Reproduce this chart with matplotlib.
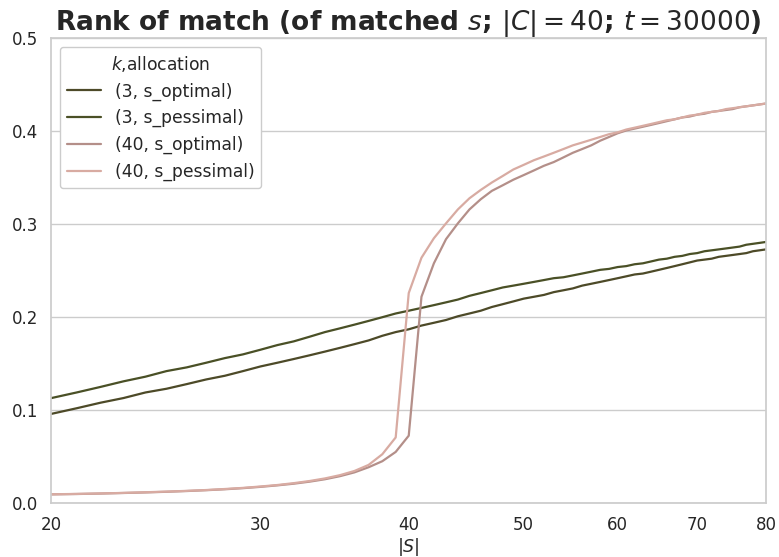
import matplotlib

matplotlib.use("Agg")
import matplotlib.pyplot as plt
import seaborn as sns
from matplotlib.ticker import FixedLocator, FixedFormatter, NullLocator

# |S| values (one point per integer)
S_SIZES = list(range(20, 81))

# k = 3 curves
K3_OPTIMAL = [
    0.096, 0.102, 0.108, 0.113, 0.119, 0.123, 0.128, 0.133, 0.137, 0.142,
    0.147, 0.151, 0.155, 0.159, 0.163, 0.167, 0.171, 0.175, 0.180, 0.184,
    0.187, 0.191, 0.194, 0.197, 0.201, 0.204, 0.207, 0.211, 0.214, 0.217,
    0.220, 0.222, 0.224, 0.227, 0.229, 0.231, 0.234, 0.236, 0.238, 0.240,
    0.242, 0.244, 0.246, 0.247, 0.249, 0.251, 0.253, 0.255, 0.257, 0.259,
    0.261, 0.262, 0.263, 0.265, 0.266, 0.267, 0.268, 0.269, 0.271, 0.272,
    0.273,
]
K3_PESSIMAL = [
    0.113, 0.119, 0.125, 0.131, 0.136, 0.142, 0.146, 0.151, 0.156, 0.160,
    0.165, 0.170, 0.174, 0.179, 0.184, 0.188, 0.192, 0.196, 0.200, 0.204,
    0.207, 0.210, 0.213, 0.216, 0.219, 0.223, 0.226, 0.229, 0.232, 0.234,
    0.236, 0.238, 0.240, 0.242, 0.243, 0.245, 0.247, 0.249, 0.251, 0.252,
    0.254, 0.255, 0.257, 0.258, 0.260, 0.262, 0.263, 0.265, 0.266, 0.268,
    0.269, 0.271, 0.272, 0.273, 0.274, 0.275, 0.276, 0.278, 0.279, 0.280,
    0.281,
]

# k = 40 curves
K40_OPTIMAL = [
    0.0093, 0.0097, 0.0102, 0.0108, 0.0114, 0.0121, 0.0129, 0.0138, 0.0148, 0.0160,
    0.0174, 0.0190, 0.0208, 0.0230, 0.0256, 0.0289, 0.0330, 0.0385, 0.0450, 0.0550,
    0.0725, 0.222, 0.258, 0.284, 0.301, 0.316, 0.327, 0.336, 0.342, 0.348,
    0.353, 0.358, 0.363, 0.367, 0.372, 0.377, 0.381, 0.385, 0.390, 0.394,
    0.398, 0.401, 0.403, 0.405, 0.407, 0.409, 0.411, 0.413, 0.415, 0.416,
    0.418, 0.419, 0.421, 0.422, 0.423, 0.424, 0.426, 0.427, 0.428, 0.429,
    0.430,
]
K40_PESSIMAL = [
    0.0094, 0.0098, 0.0103, 0.0109, 0.0116, 0.0123, 0.0131, 0.0140, 0.0151, 0.0163,
    0.0178, 0.0194, 0.0214, 0.0237, 0.0265, 0.0300, 0.0345, 0.0410, 0.0525, 0.0706,
    0.226, 0.264, 0.285, 0.301, 0.316, 0.328, 0.337, 0.345, 0.352, 0.359,
    0.364, 0.369, 0.373, 0.377, 0.381, 0.385, 0.388, 0.391, 0.394, 0.397,
    0.399, 0.402, 0.404, 0.406, 0.408, 0.410, 0.412, 0.413, 0.415, 0.417,
    0.418, 0.420, 0.421, 0.422, 0.424, 0.425, 0.426, 0.427, 0.428, 0.429,
    0.430,
]

SERIES = [
    ("(3, s_optimal)", K3_OPTIMAL, "#4d4a28"),
    ("(3, s_pessimal)", K3_PESSIMAL, "#4a5026"),
    ("(40, s_optimal)", K40_OPTIMAL, "#b48f89"),
    ("(40, s_pessimal)", K40_PESSIMAL, "#d8aba2"),
]

X_TICKS = [20, 30, 40, 50, 60, 70, 80]
Y_TICKS = [0.0, 0.1, 0.2, 0.3, 0.4, 0.5]


def main() -> None:
    sns.set_theme(style="whitegrid")
    fig = plt.figure(figsize=(7.79, 5.57), dpi=100)
    ax = fig.add_axes([0.0661, 0.0969, 0.9172, 0.834])

    for label, values, color in SERIES:
        ax.plot(S_SIZES, values, color=color, linewidth=1.6, label=label)

    ax.set_xscale("log")
    ax.set_xlim(20, 80)
    ax.xaxis.set_major_locator(FixedLocator(X_TICKS))
    ax.xaxis.set_major_formatter(FixedFormatter([str(t) for t in X_TICKS]))
    ax.xaxis.set_minor_locator(NullLocator())
    ax.grid(False, axis="x")
    ax.set_ylim(0, 0.5)
    ax.set_yticks(Y_TICKS)
    ax.set_yticklabels([f"{t:.1f}" for t in Y_TICKS])
    ax.tick_params(labelsize=12)

    ax.set_xlabel("$|S|$", fontsize=12.5, labelpad=1)
    ax.set_title("Rank of match (of matched $s$; $|C| = 40$; $t = 30000$)",
                 fontsize=19, fontweight="bold", pad=6)
    ax.legend(title="$k$,allocation", loc="upper left", fontsize=12.3,
              title_fontsize=12.3, framealpha=1.0)

    fig.savefig("out.png", dpi=100)
    plt.close(fig)


if __name__ == "__main__":
    main()
